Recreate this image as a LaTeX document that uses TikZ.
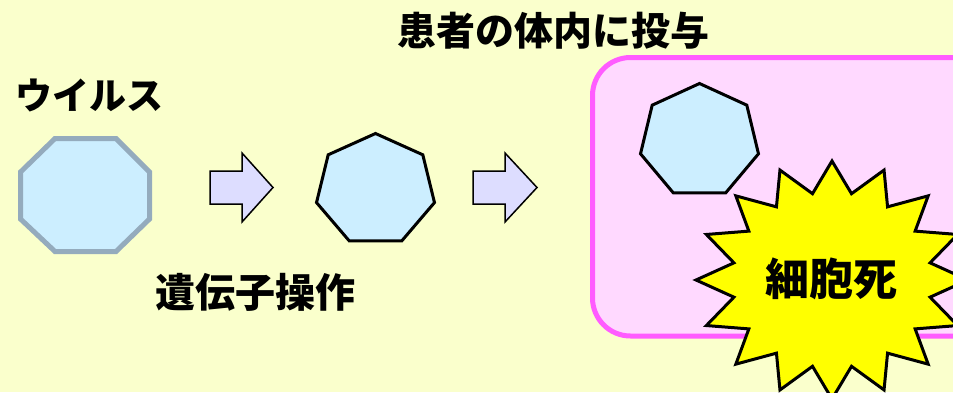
\documentclass[tikz,border=0pt]{standalone}
\usepackage{fontspec}
\newfontfamily\cjk{Noto Sans CJK JP}
\definecolor{bgyellow}{RGB}{250,255,204}
\definecolor{virusfill}{RGB}{204,238,255}
\definecolor{virusline}{RGB}{148,171,189}
\definecolor{arrowfill}{RGB}{221,221,255}
\definecolor{pinkline}{RGB}{255,92,255}
\definecolor{pinkfill}{RGB}{255,217,255}
\definecolor{burst}{RGB}{255,255,0}
\tikzset{
  lbl/.style={font=\cjk\bfseries\fontsize{#1}{#1}\selectfont, inner sep=0pt, text=black},
  blockarrow/.style={draw=black, line width=1.5pt, fill=arrowfill, line join=miter},
  hepta/.style={draw=black, line width=3pt, fill=virusfill, line join=miter},
}
\begin{document}
\begin{tikzpicture}[x=1pt,y=-1pt]
\useasboundingbox (0,0) rectangle (953,392);
\begin{scope}
\clip (0,0) rectangle (953,392);
\fill[bgyellow] (0,0) rectangle (953,392);
% octagon (virus)
\draw[fill=virusfill, draw=virusline, line width=5pt, line join=miter]
  (55,138.5) -- (116,138.5) -- (149.5,172) -- (149.5,219) -- (116,251.5)
  -- (55,251.5) -- (20.5,219) -- (20.5,172) -- cycle;
\coordinate (virus) at (85,195);
% arrows
\draw[blockarrow] (210,171) -- (242,171) -- (242,153) -- (273,187.5) -- (242,222) -- (242,204) -- (210,204) -- cycle;
\draw[blockarrow] (473,171) -- (505,171) -- (505,153) -- (537,187.5) -- (505,222) -- (505,204) -- (473,204) -- cycle;
% heptagon 2
\draw[hepta] ({375.5+60.5*cos(90)},{190-56.5*sin(90)})
  \foreach \k in {1,...,6} { -- ({375.5+60.5*cos(90+\k*360/7)},{190-56.5*sin(90+\k*360/7)}) } -- cycle;
% pink box
\draw[fill=pinkfill, draw=pinkline, line width=5pt, rounded corners=38pt] (592.5,57.5) rectangle (1000,336);
% heptagon 3
\draw[hepta] ({699.5+60.5*cos(90)},{141-57.5*sin(90)})
  \foreach \k in {1,...,6} { -- ({699.5+60.5*cos(90+\k*360/7)},{141-57.5*sin(90+\k*360/7)}) } -- cycle;
% starburst
\draw[draw=black, line width=3pt, fill=burst, line join=miter]
  ({832+136*cos(90)},{280-119*sin(90)})
  \foreach \k in {0,...,15} {
    -- ({832+100*cos(101.25+\k*22.5)},{280-88*sin(101.25+\k*22.5)})
    -- ({832+136*cos(112.5+\k*22.5)},{280-119*sin(112.5+\k*22.5)})
  } -- cycle;
\end{scope}
% labels
\node[lbl=39] (t1) at (553,31) {患者の体内に投与};
\node[lbl=37] (t2) at (90,95) {ウイルス};
\node[lbl=40] (t3) at (255,292) {遺伝子操作};
\node[lbl=44] (t4) at (831,279) {細胞死};
\end{tikzpicture}
\end{document}
